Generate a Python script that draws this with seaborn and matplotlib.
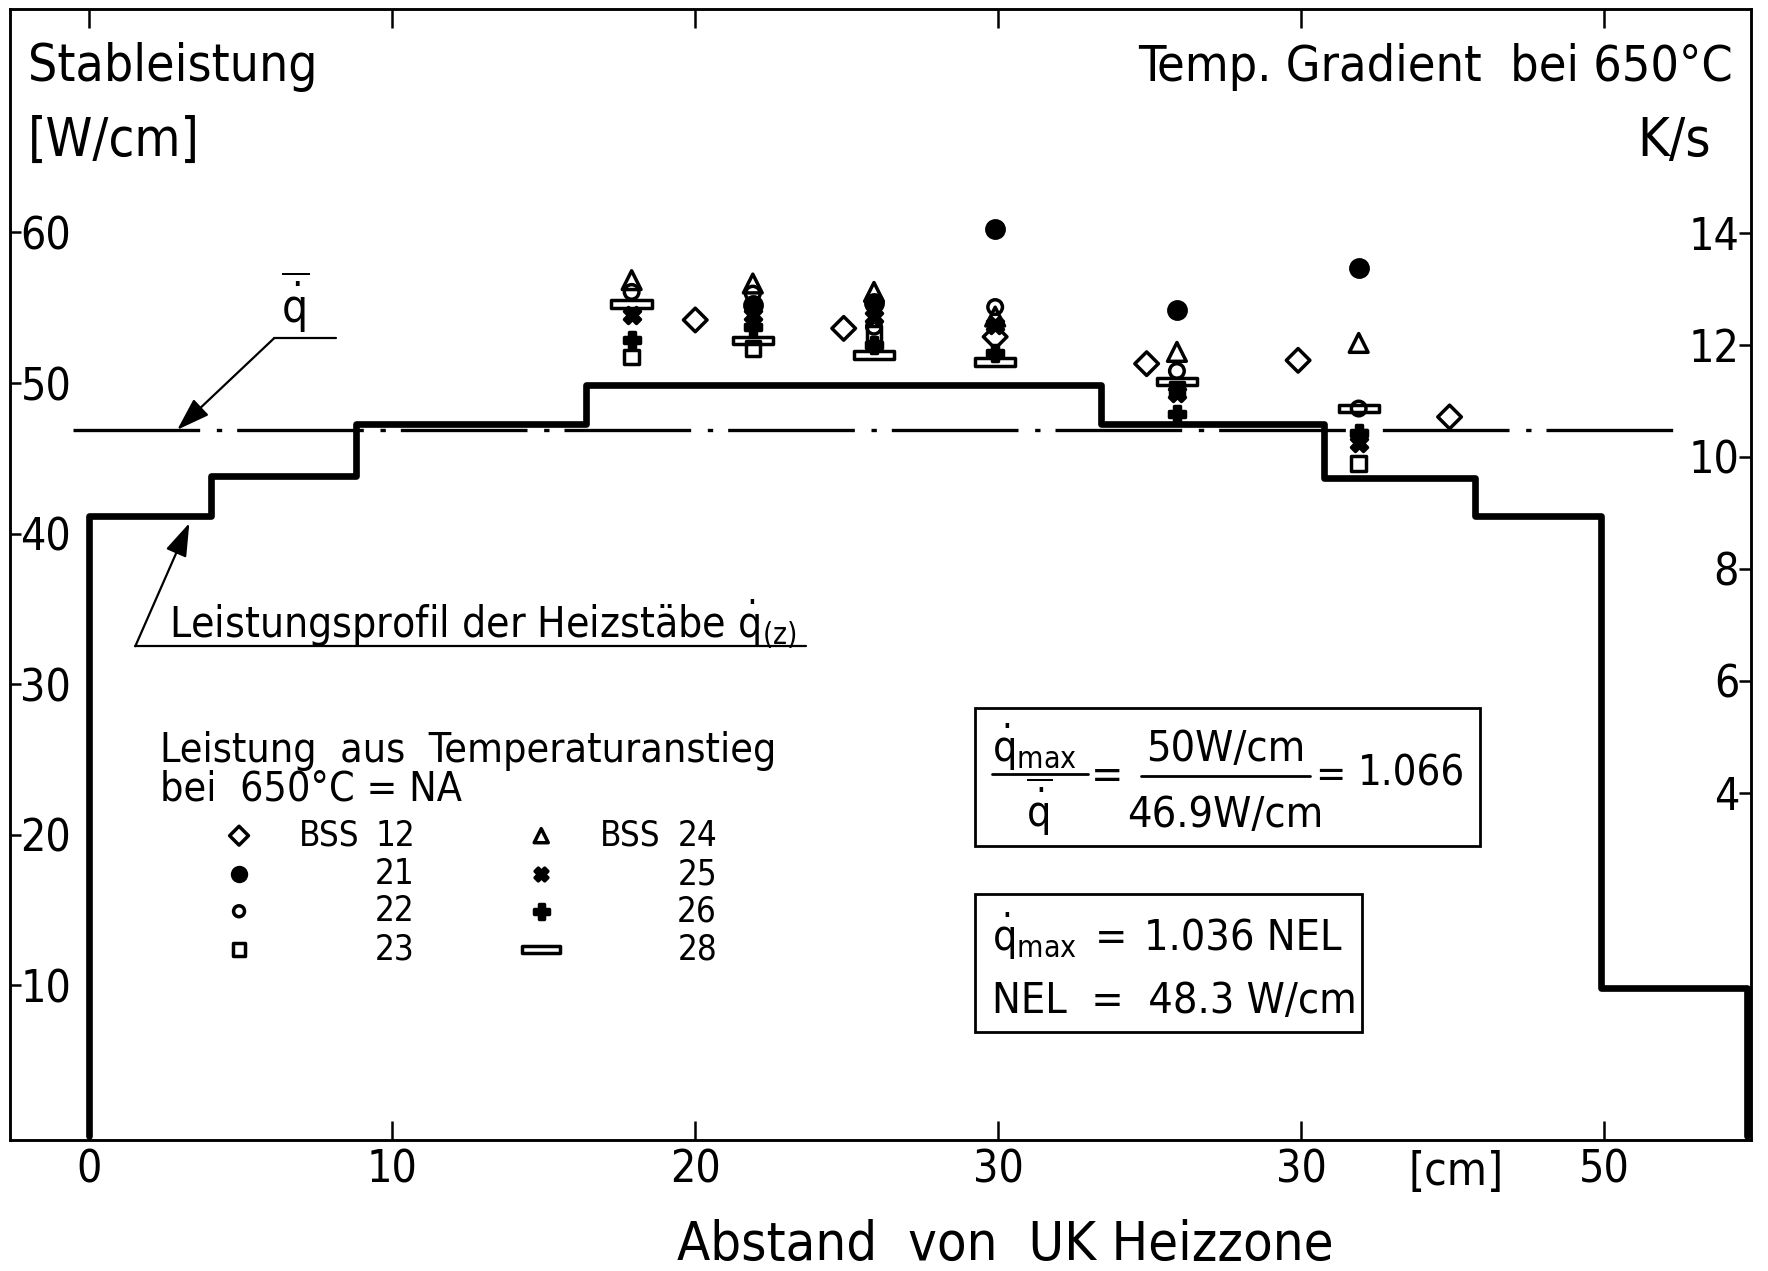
import numpy as np
import pandas as pd
import matplotlib
matplotlib.use("Agg")
import matplotlib.pyplot as plt
import seaborn as sns
from matplotlib.path import Path
from matplotlib.lines import Line2D
from matplotlib.patches import Rectangle

nan = np.nan

# ---------------- data ----------------
# heater power profile, W/cm, step edges in cm
profile_edges = [0.0, 0.0, 4.0, 8.8, 16.4, 33.4, 40.75, 45.75, 49.9, 54.73]
profile_values = [0.0, 41.2, 43.8, 47.3, 49.9, 47.3, 43.7, 41.2, 9.85, 0.0]

q_mean = 46.9
q_mean_span = [-0.55, 52.5]

# temperature gradients at 650 °C, K/s
pos_bss12 = [20.0, 24.9, 29.9, 34.9, 39.9, 44.9]
grad_bss12 = [12.44, 12.29, 12.14, 11.66, 11.72, 10.71]

pos_cluster = [17.9, 21.9, 25.9, 29.9, 35.9, 41.9]
grad_21 = [nan, 12.70, 12.75, 14.06, 12.61, 13.36]
grad_22 = [12.94, 12.91, 12.32, 12.67, 11.53, 10.86]
grad_23 = [11.78, 11.93, 12.20, nan, 11.20, 9.88]
grad_24 = [13.15, 13.09, 12.94, 12.50, 11.87, 12.03]
grad_25 = [12.52, 12.52, 12.50, 12.35, 11.13, 10.24]
grad_26 = [12.08, 12.32, 11.99, 11.85, 10.77, 10.42]
grad_28 = [12.72, 12.07, 11.81, 11.69, 11.34, 10.86]

x_ticks = [0, 10, 20, 30, 40, 50]
x_ticklabels = ["0", "10", "20", "30", "30", "50"]
left_ticks = [10, 20, 30, 40, 50, 60]
left_ticklabels = ["10", "20", "30", "40", "50", "60"]
right_ticks = [4, 6, 8, 10, 12, 14]
right_ticklabels = ["4", "6", "8", "10", "12", "14"]

series_names = ["12", "21", "22", "23", "24", "25", "26", "28"]
series_pos = [pos_bss12] + [pos_cluster] * 7
series_vals = [grad_bss12, grad_21, grad_22, grad_23, grad_24, grad_25, grad_26, grad_28]

# ---------------- styles ----------------
bar_marker = Path([(-2.4, -0.45), (2.4, -0.45), (2.4, 0.45), (-2.4, 0.45), (-2.4, -0.45)],
                  [Path.MOVETO, Path.LINETO, Path.LINETO, Path.LINETO, Path.CLOSEPOLY])
styles = {
    "12": dict(marker="D", ms=12.0, fc="none"),
    "21": dict(marker="o", ms=12.5, fc="black"),
    "22": dict(marker="o", ms=10.5, fc="none"),
    "23": dict(marker="s", ms=10.5, fc="none"),
    "24": dict(marker="^", ms=13.5, fc="none"),
    "25": dict(marker="X", ms=11.5, fc="black"),
    "26": dict(marker="P", ms=12.0, fc="black"),
    "28": dict(marker=bar_marker, ms=29, fc="none"),
}

sns.set_theme(style="white")
plt.rcParams["font.family"] = ["DejaVu Sans"]
plt.rcParams["font.stretch"] = "condensed"
plt.rcParams["mathtext.fontset"] = "dejavusans"
plt.rcParams["axes.linewidth"] = 1.8
plt.rcParams["axes.edgecolor"] = "black"
plt.rcParams["text.color"] = "black"

FW, FH = 1768, 1271
fig = plt.figure(figsize=(FW / 100, FH / 100), dpi=100)
ax = fig.add_axes([10 / FW, 1 - 1140 / FH, (1751 - 10) / FW, (1140 - 9) / FH])
ax2 = ax.twinx()

XLIM = (-2.62, 54.85)
YLIM = (-0.26, 74.84)


def to_grad(w):
    return 10 + (w - 45.11) / 3.722


# display helper (reference coordinates as seen at 1568 x 1127)
W, H = 1568, 1127


def P(x, y):
    return (x / W, 1 - y / H)


# ---------------- marks ----------------
sns.lineplot(x=profile_edges, y=profile_values, ax=ax, color="black", lw=4.8,
             drawstyle="steps-post", estimator=None, sort=False)
ax.plot(q_mean_span, [q_mean, q_mean], color="black", lw=2.4,
        linestyle=(0, (38, 5, 1.6, 4.5)))

for name, xs, ys in zip(series_names, series_pos, series_vals):
    st = styles[name]
    sns.scatterplot(x=xs, y=ys, ax=ax2, marker=st["marker"], s=st["ms"] ** 2,
                    facecolor=st["fc"], edgecolor="black", linewidth=2.5, zorder=5)

ax.set_xlim(XLIM)
ax.set_ylim(YLIM)
ax2.set_ylim(to_grad(YLIM[0]), to_grad(YLIM[1]))
ax.set_xlabel("")
ax.set_ylabel("")
ax2.set_ylabel("")
ax.grid(False)
ax2.grid(False)
for a in (ax, ax2):
    for s in a.spines.values():
        s.set_color("black")
        s.set_linewidth(1.8)

ax.set_xticks(x_ticks, labels=x_ticklabels)
ax.set_yticks(left_ticks, labels=left_ticklabels)
ax2.set_yticks(right_ticks, labels=right_ticklabels)
ax.tick_params(axis="x", which="both", direction="in", length=14, width=1.8,
               bottom=True, top=True, labeltop=False, labelsize=32, pad=6, colors="black")
ax.tick_params(axis="y", direction="in", length=8, width=1.8, left=True, right=False,
               labelsize=32, pad=-7.5, colors="black")
ax2.tick_params(axis="y", direction="in", length=9, width=1.8, right=True, left=False,
                labelsize=32, pad=-8.5, colors="black")
plt.setp(ax.get_yticklabels(), ha="left")
plt.setp(ax2.get_yticklabels(), ha="right")

# ---------------- titles / axis texts ----------------
big = 37
fig.text(*P(25, 72), "Stableistung", fontsize=big, ha="left", va="baseline")
fig.text(*P(25, 138), "[W/cm]", fontsize=big + 1, ha="left", va="baseline")
fig.text(*P(1537, 72), "Temp. Gradient  bei 650°C", fontsize=big - 1, ha="right", va="baseline")
fig.text(*P(1517, 138), "K/s", fontsize=big + 2, ha="right", va="baseline")
fig.text(*P(1291, 1040), "[cm]", fontsize=33, ha="center", va="center")
fig.text(*P(892, 1117), "Abstand  von  UK Heizzone", fontsize=39, ha="center", va="baseline")

arrow_kw = dict(arrowstyle="-|>,head_length=0.6,head_width=0.2", color="black",
                lw=1.6, mutation_scale=34, shrinkA=0, shrinkB=0)

# q-bar label and leader
fig.text(*P(262, 287), r"$\overline{\dot{\mathrm{q}}}$", fontsize=33, ha="center", va="baseline")
fig.add_artist(Line2D([243 / W, 298 / W], [1 - 300 / H] * 2, color="black", lw=1.6))
ax.annotate("", xy=(2.9, q_mean), xycoords="data", xytext=P(243, 300),
            textcoords="figure fraction", arrowprops=arrow_kw)

# profile label and leader
fig.text(*P(150, 566), r"Leistungsprofil der Heizstäbe $\dot{\mathrm{q}}_{(\mathrm{z})}$",
         fontsize=30.5, ha="left", va="baseline")
fig.add_artist(Line2D([120 / W, 715 / W], [1 - 573 / H] * 2, color="black", lw=1.6))
ax.annotate("", xy=(3.3, 40.7), xycoords="data", xytext=P(120, 573),
            textcoords="figure fraction", arrowprops=arrow_kw)

# ---------------- legend ----------------
fig.text(*P(142, 676), "Leistung  aus  Temperaturanstieg", fontsize=29.5, ha="left", va="baseline")
fig.text(*P(142, 710), "bei  650°C = NA", fontsize=29.5, ha="left", va="baseline")
rows_y = [741, 775, 808, 842]
col_sym = [212, 480]
col_bss = [265, 532]
col_num = [368, 636]
leg_scale = {"12": 0.8, "21": 0.8, "22": 0.75, "23": 0.85, "24": 0.75, "25": 0.8, "26": 0.9, "28": 0.95}
for i, name in enumerate(series_names):
    c, r = divmod(i, 4)
    st = styles[name]
    fx, fy = P(col_sym[c], rows_y[r])
    ax.scatter([fx], [fy], transform=fig.transFigure, marker=st["marker"],
               s=(st["ms"] * leg_scale[name]) ** 2, facecolor=st["fc"],
               edgecolor="black", linewidth=2.5, clip_on=False, zorder=6)
    if r == 0:
        fig.text(*P(col_bss[c], rows_y[r]), "BSS", fontsize=25, ha="left", va="center")
    fig.text(*P(col_num[c], rows_y[r]), name, fontsize=25, ha="right", va="center")

# ---------------- formula boxes ----------------
for (x0, y0, x1, y1) in [(865, 628, 1313, 750), (865, 793, 1208, 915)]:
    fig.add_artist(Rectangle(P(x0, y1), (x1 - x0) / W, (y1 - y0) / H, fill=False,
                             edgecolor="black", lw=2.0, transform=fig.transFigure))

qmax = r"$\dot{\mathrm{q}}_{\mathrm{max}}$"
fs_box = 31
fig.text(*P(880, 676), qmax, fontsize=fs_box, ha="left", va="baseline")
fig.add_artist(Line2D([880 / W, 965 / W], [1 - 686 / H] * 2, color="black", lw=2.0))
fig.text(*P(922, 733), r"$\overline{\dot{\mathrm{q}}}$", fontsize=fs_box, ha="center", va="baseline")
fig.text(*P(982, 688), "=", fontsize=fs_box, ha="center", va="center")
fig.text(*P(1087, 675), "50W/cm", fontsize=fs_box, ha="center", va="baseline")
fig.add_artist(Line2D([1012 / W, 1162 / W], [1 - 688 / H] * 2, color="black", lw=2.0))
fig.text(*P(1087, 733), "46.9W/cm", fontsize=fs_box, ha="center", va="baseline")
fig.text(*P(1180, 688), "=", fontsize=fs_box - 2, ha="center", va="center")
fig.text(*P(1299, 686), "1.066", fontsize=fs_box - 1, ha="right", va="center")

fig.text(*P(880, 843), qmax, fontsize=fs_box, ha="left", va="baseline")
fig.text(*P(985, 832), "=", fontsize=fs_box, ha="center", va="center")
fig.text(*P(1015, 843), "1.036 NEL", fontsize=fs_box, ha="left", va="baseline")
fig.text(*P(880, 898), "NEL  =  48.3 W/cm", fontsize=fs_box, ha="left", va="baseline")

fig.savefig("out.png", dpi=100, facecolor="white")
